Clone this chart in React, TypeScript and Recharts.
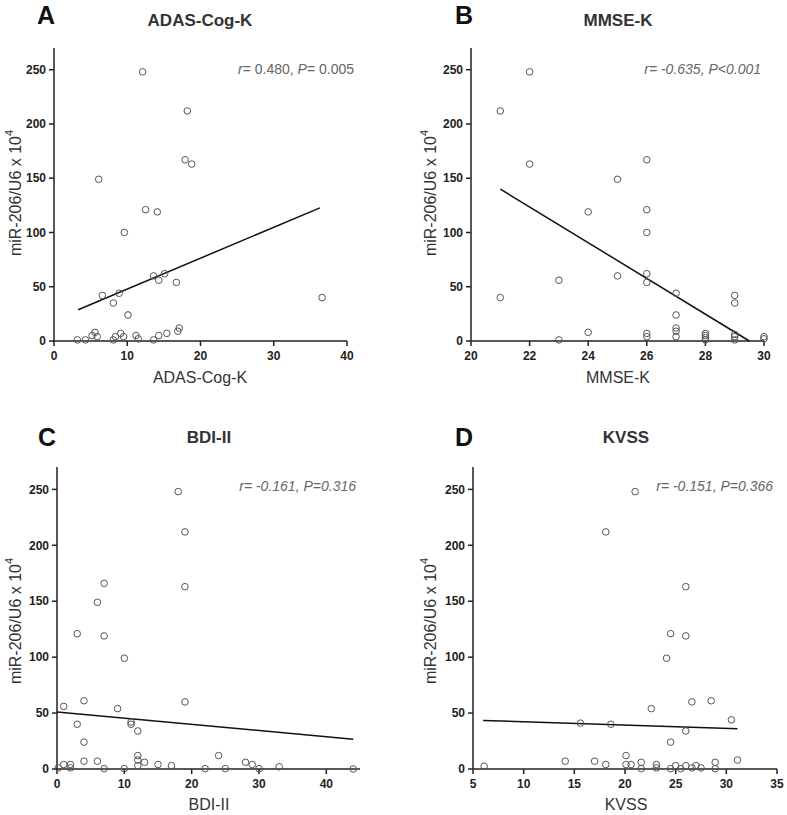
import React from "react"
import { ScatterChart, Scatter, XAxis, YAxis } from "recharts"

const FONT = '"Liberation Sans", Arial, sans-serif'

// A: ADAS-Cog-K
const adasX = [12.1, 18.2, 17.9, 18.8, 6.1, 12.5, 14.1, 9.6, 13.6, 15.1, 14.3, 16.7, 6.6, 8.9, 8.1, 10.1, 36.6,
  3.2, 4.3, 5.2, 5.6, 5.9, 8.1, 8.4, 9.1, 9.5, 11.2, 11.5, 13.6, 14.3, 15.4, 16.9, 17.1]
const adasY = [248, 212, 167, 163, 149, 121, 119, 100, 60, 62, 56, 54, 42, 44, 35, 24, 40,
  1, 1, 5, 8, 4, 1, 4, 7, 4, 5, 2, 1, 5, 7, 9, 12]
const adasFitX = [3.3, 36.3]
const adasFitY = [28.8, 122.7]

// B: MMSE-K
const mmseX = [22, 21, 22, 21, 26, 25, 26, 24, 26, 26, 25, 26, 23, 27, 27, 27, 27, 27, 29, 29,
  24, 26, 26, 23, 28, 28, 28, 28, 29, 29, 29, 30, 30]
const mmseY = [248, 212, 163, 40, 167, 149, 121, 119, 100, 62, 60, 54, 56, 44, 24, 12, 9, 4, 42, 35,
  8, 7, 4, 1, 7, 5, 3, 1, 6, 4, 1, 4, 2]
const mmseFitX = [21, 29.5]
const mmseFitY = [140, 0]

// C: BDI-II
const bdiX = [18, 19, 19, 7, 6, 3, 7, 10, 19, 4, 1, 9, 11, 11, 3, 12, 4,
  24, 12, 12, 12, 13, 4, 6, 1, 2, 2, 0.2, 7, 10, 15, 17, 22, 25, 28, 29, 30, 33, 44]
const bdiY = [248, 212, 163, 166, 149, 121, 119, 99, 60, 61, 56, 54, 42, 40, 40, 34, 24,
  12, 12, 8, 3, 6, 7, 7, 4, 4, 1, 1, 0.3, 0.3, 4, 3, 0.3, 0.3, 6, 4, 0.3, 2, 0]
const bdiFitX = [0, 44]
const bdiFitY = [51, 26.7]

// D: KVSS
const kvssX = [21, 18.1, 26, 24.5, 26, 24.1, 22.6, 26.6, 28.5, 30.5, 15.6, 18.6, 26, 24.5,
  20.1, 31.1, 14.1, 17, 18.1, 20.1, 20.6, 21.6, 21.6, 23.1, 23.1, 24.5, 25, 25.5, 26, 26.6, 27, 27.5, 28.9, 28.9, 6.1]
const kvssY = [248, 212, 163, 121, 119, 99, 54, 60, 61, 44, 41, 40, 34, 24,
  12, 8, 7, 7, 4, 4, 4, 6, 0.3, 4, 1, 0.3, 3, 0.3, 3, 1, 3, 1, 6, 0.3, 2.5]
const kvssFitX = [6, 31.1]
const kvssFitY = [43.4, 35.9]

const yTicks = [0, 50, 100, 150, 200, 250]

const pts = (xs: number[], ys: number[]) => xs.map((x, i) => ({ x, y: ys[i] }))

const YW = 40
const XH = 30

type Box = { left: number; top: number; w: number; h: number }
type Plot = { x0: number; y0: number; x1: number; y1: number }

function Panel({ box, plot, data, fit, xDomain, xTicks }: {
  box: Box; plot: Plot; data: any[]; fit: any[]; xDomain: number[]; xTicks: number[]
}) {
  const margin = {
    left: plot.x0 - box.left - YW,
    top: plot.y0 - box.top,
    right: box.left + box.w - plot.x1,
    bottom: box.top + box.h - plot.y1 - XH,
  }
  const tick = { fill: "#222", fontSize: 12, fontWeight: "bold" as const, fontFamily: FONT }
  return (
    <div style={{ position: "absolute", left: box.left, top: box.top }}>
      <ScatterChart width={box.w} height={box.h} margin={margin}>
        <XAxis
          type="number"
          dataKey="x"
          domain={xDomain}
          ticks={xTicks}
          height={XH}
          stroke="#222"
          strokeWidth={1.5}
          tickSize={5}
          tickMargin={5}
          tick={tick}
        />
        <YAxis
          type="number"
          dataKey="y"
          domain={[0, 270]}
          ticks={yTicks}
          width={YW}
          stroke="#222"
          strokeWidth={1.5}
          tickSize={5}
          tickMargin={3}
          tick={tick}
        />
        <Scatter
          data={fit}
          line={{ stroke: "#111", strokeWidth: 1.5 }}
          shape={() => <g />}
          isAnimationActive={false}
        />
        <Scatter
          data={data}
          isAnimationActive={false}
          shape={(p: any) => <circle cx={p.cx} cy={p.cy} r={3.3} fill="none" stroke="#555" strokeWidth={1} />}
        />
      </ScatterChart>
    </div>
  )
}

function YTitle({ x, y }: { x: number; y: number }) {
  return (
    <text x={x} y={y} transform={`rotate(-90, ${x}, ${y})`} textAnchor="middle" dominantBaseline="middle"
      fontSize={16} fill="#333" fontFamily={FONT}>
      miR-206/U6 x 10<tspan dy={-7} fontSize={11}>4</tspan>
    </text>
  )
}

function Stat({ x, y, r, p, allItalic }: { x: number; y: number; r: string; p: string; allItalic?: boolean }) {
  const st = allItalic ? "italic" : "normal"
  return (
    <text x={x} y={y} textAnchor="end" dominantBaseline="middle" fontSize={14} fill="#666" fontFamily={FONT}>
      <tspan fontStyle="italic">r</tspan>
      <tspan fontStyle={st}>{r}</tspan>
      <tspan fontStyle="italic">P</tspan>
      <tspan fontStyle={st}>{p}</tspan>
    </text>
  )
}

export default function App() {
  const letter = { fontSize: 25, fontWeight: "bold" as const, fill: "#111", fontFamily: FONT }
  const title = { fontSize: 17, fontWeight: "bold" as const, fill: "#333", fontFamily: FONT, textAnchor: "middle" as const }
  const xTitle = { fontSize: 16, fill: "#333", fontFamily: FONT, textAnchor: "middle" as const }
  return (
    <div style={{ position: "absolute", left: 0, top: 0, width: 787, height: 815, background: "#fff" }}>
      <Panel box={{ left: 0, top: 0, w: 393, h: 407 }} plot={{ x0: 54, y0: 48, x1: 347, y1: 341 }}
        data={pts(adasX, adasY)} fit={pts(adasFitX, adasFitY)} xDomain={[0, 40]} xTicks={[0, 10, 20, 30, 40]} />
      <Panel box={{ left: 393, top: 0, w: 394, h: 407 }} plot={{ x0: 471, y0: 48, x1: 764, y1: 341 }}
        data={pts(mmseX, mmseY)} fit={pts(mmseFitX, mmseFitY)} xDomain={[20, 30]} xTicks={[20, 22, 24, 26, 28, 30]} />
      <Panel box={{ left: 0, top: 407, w: 393, h: 408 }} plot={{ x0: 57, y0: 467, x1: 360, y1: 769 }}
        data={pts(bdiX, bdiY)} fit={pts(bdiFitX, bdiFitY)} xDomain={[0, 45]} xTicks={[0, 10, 20, 30, 40]} />
      <Panel box={{ left: 393, top: 407, w: 394, h: 408 }} plot={{ x0: 473, y0: 467, x1: 777, y1: 769 }}
        data={pts(kvssX, kvssY)} fit={pts(kvssFitX, kvssFitY)} xDomain={[5, 35]} xTicks={[5, 10, 15, 20, 25, 30, 35]} />

      <svg width={787} height={815} style={{ position: "absolute", left: 0, top: 0, pointerEvents: "none" }}>
        <text x={37} y={24} {...letter}>A</text>
        <text x={455} y={24} {...letter}>B</text>
        <text x={38} y={446} {...letter}>C</text>
        <text x={455} y={446} {...letter}>D</text>

        <text x={200} y={26} {...title}>ADAS-Cog-K</text>
        <text x={618} y={26} {...title}>MMSE-K</text>
        <text x={209} y={443} {...title}>BDI-II</text>
        <text x={626} y={443} {...title}>KVSS</text>

        <text x={200} y={383} {...xTitle}>ADAS-Cog-K</text>
        <text x={618} y={383} {...xTitle}>MMSE-K</text>
        <text x={209} y={810} {...xTitle}>BDI-II</text>
        <text x={626} y={810} {...xTitle}>KVSS</text>

        <YTitle x={17} y={193} />
        <YTitle x={432} y={193} />
        <YTitle x={17} y={621} />
        <YTitle x={432} y={621} />

        <Stat x={354} y={70} r="= 0.480, " p="= 0.005" />
        <Stat x={761} y={70} r="= -0.635, " p="<0.001" allItalic />
        <Stat x={356} y={487} r="= -0.161, " p="=0.316" allItalic />
        <Stat x={773} y={487} r="= -0.151, " p="=0.366" allItalic />
      </svg>
    </div>
  )
}
